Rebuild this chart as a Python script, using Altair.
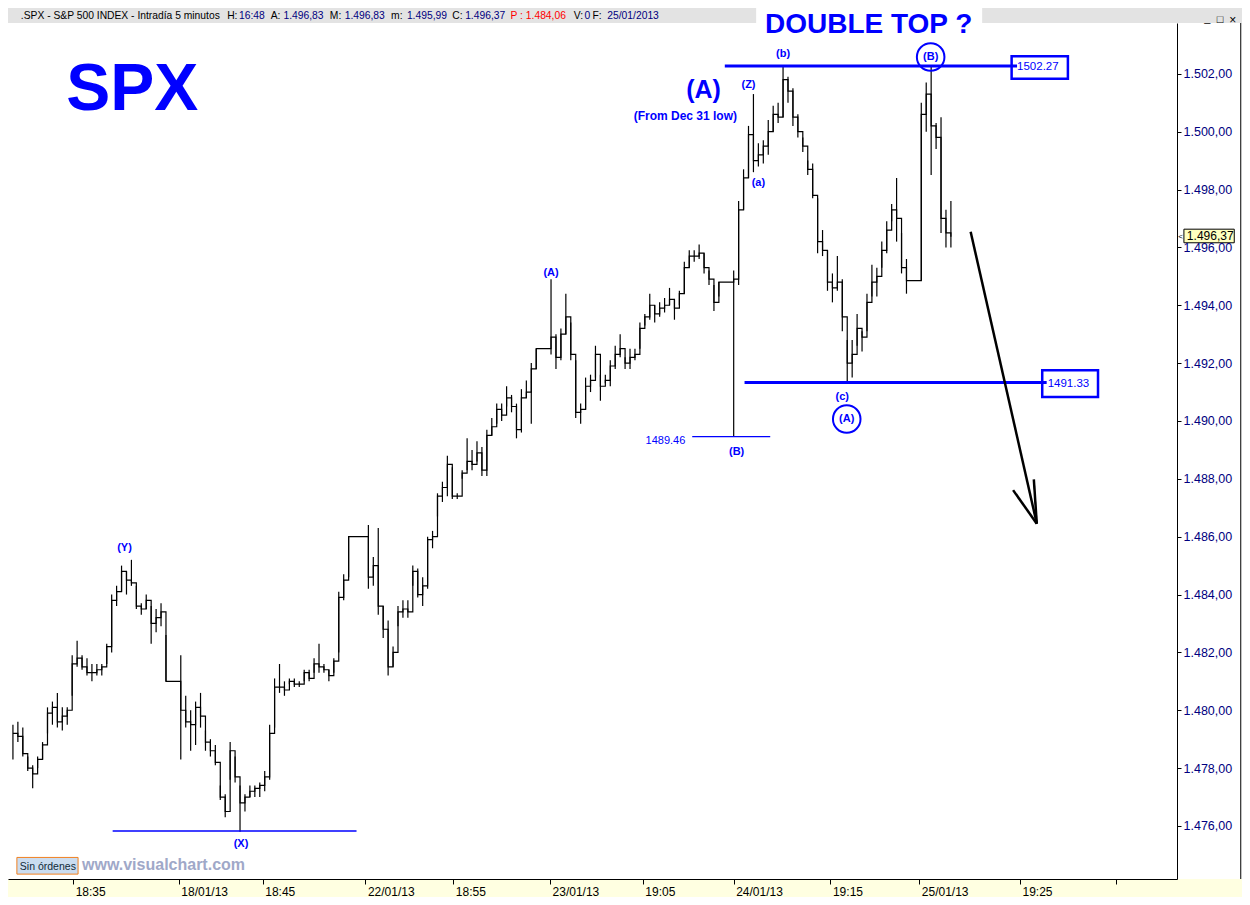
import altair as alt
import pandas as pd

# 5-minute bars of the S&P 500 (about one sample every two bars)
highs = [
    1479.5, 1479.6, 1479.4, 1478.4, 1478.1, 1478.4, 1478.9, 1480.1, 1480.3, 1480.6,
    1480.1, 1480.1, 1481.9, 1482.4, 1481.9, 1481.8, 1481.6, 1481.6, 1481.6, 1482.3,
    1484.0, 1484.3, 1485.0, 1484.8, 1485.2, 1484.3, 1483.7, 1484.0, 1483.6, 1483.5,
    1483.7, 1482.6, 1481.0, 1481.0, 1481.9, 1480.5, 1480.0, 1480.3, 1480.6, 1479.3,
    1479.0, 1478.8, 1477.4, 1477.1, 1478.9, 1478.4, 1477.4, 1477.1, 1477.4, 1477.4,
    1477.5, 1477.9, 1479.5, 1481.1, 1481.6, 1481.0, 1481.1, 1481.1, 1481.0, 1481.4,
    1481.4, 1481.8, 1482.3, 1481.6, 1481.4, 1481.8, 1484.1, 1484.7, 1486.0, 1486.0,
    1486.0, 1486.0, 1486.4, 1485.3, 1486.3, 1483.6, 1483.1, 1482.2, 1483.6, 1483.8,
    1483.8, 1485.0, 1484.9, 1484.6, 1486.0, 1486.2, 1487.5, 1487.9, 1488.8, 1488.4,
    1487.5, 1488.3, 1489.4, 1489.0, 1489.3, 1489.1, 1489.7, 1490.1, 1490.6, 1490.6,
    1491.2, 1490.9, 1490.6, 1491.1, 1491.4, 1492.0, 1492.5, 1492.5, 1492.5, 1494.9,
    1493.0, 1493.2, 1494.4, 1493.4, 1492.1, 1490.6, 1491.5, 1491.6, 1492.6, 1491.6,
    1491.6, 1492.1, 1492.6, 1493.0, 1492.2, 1492.5, 1492.5, 1493.4, 1493.7, 1494.4,
    1494.0, 1494.1, 1494.25, 1494.6, 1494.2, 1494.5, 1495.5, 1495.9, 1495.9, 1496.1,
    1495.8, 1495.2, 1494.7, 1494.8, 1494.8, 1494.8, 1495.2, 1497.6, 1498.7, 1500.2,
    1501.3, 1499.6, 1499.7, 1500.4, 1500.9, 1501.0, 1502.27, 1501.9, 1501.5, 1500.6,
    1499.8, 1499.0, 1498.9, 1497.7, 1496.6, 1495.9, 1495.1, 1495.7, 1494.9, 1492.8,
    1492.8, 1493.7, 1493.1, 1494.4, 1495.4, 1495.3, 1496.2, 1496.9, 1497.5, 1498.4,
    1496.5, 1495.6, 1494.85, 1494.85, 1501.0, 1501.7, 1502.27, 1500.3, 1500.5, 1497.3,
    1497.6,
]
lows = [
    1478.3, 1478.9, 1478.4, 1477.9, 1477.3, 1478.0, 1478.3, 1479.2, 1479.5, 1479.4,
    1479.3, 1479.5, 1480.5, 1481.5, 1481.4, 1481.2, 1481.0, 1481.2, 1481.2, 1481.6,
    1482.0, 1483.6, 1484.1, 1484.0, 1484.3, 1483.5, 1483.3, 1483.5, 1482.3, 1482.7,
    1482.9, 1481.0, 1481.0, 1481.0, 1478.3, 1479.4, 1478.6, 1478.8, 1479.4, 1478.6,
    1478.4, 1478.1, 1476.9, 1476.3, 1477.6, 1477.5, 1475.8, 1476.5, 1477.0, 1477.0,
    1477.0, 1477.2, 1477.6, 1479.4, 1480.6, 1480.5, 1480.9, 1480.8, 1480.8, 1481.0,
    1481.0, 1481.3, 1481.3, 1481.3, 1481.0, 1481.3, 1482.0, 1483.8, 1484.6, 1486.0,
    1486.0, 1486.0, 1484.2, 1484.3, 1483.3, 1482.5, 1481.2, 1481.5, 1482.9, 1483.2,
    1483.2, 1484.3, 1483.9, 1483.6, 1484.2, 1485.6, 1486.7, 1487.2, 1487.4, 1487.3,
    1487.3, 1488.0, 1488.3, 1488.3, 1488.6, 1488.1, 1488.1, 1489.5, 1489.9, 1490.0,
    1490.5, 1490.3, 1489.4, 1489.6, 1490.8, 1489.9, 1491.8, 1492.5, 1492.5, 1492.3,
    1491.8, 1492.1, 1493.0, 1492.1, 1490.1, 1489.9, 1490.4, 1491.0, 1491.5, 1490.7,
    1491.3, 1491.2, 1491.8, 1492.2, 1491.8, 1491.8, 1492.1, 1492.5, 1493.3, 1493.5,
    1493.4, 1493.6, 1493.75, 1494.0, 1493.5, 1494.0, 1494.4, 1495.3, 1495.5, 1495.6,
    1495.1, 1494.7, 1493.8, 1494.3, 1494.8, 1494.8, 1489.46, 1494.7, 1497.3, 1498.4,
    1498.6, 1498.8, 1498.9, 1499.2, 1500.0, 1500.3, 1500.5, 1501.0, 1500.2, 1499.8,
    1499.3, 1498.5, 1497.7, 1495.8, 1495.7, 1494.5, 1494.1, 1494.5, 1493.1, 1491.33,
    1491.5, 1492.6, 1492.4, 1493.1, 1494.3, 1494.3, 1495.3, 1495.8, 1496.9, 1496.2,
    1495.1, 1494.4, 1494.85, 1494.85, 1494.85, 1500.0, 1498.5, 1499.4, 1496.5, 1496.0,
    1496.0,
]
closes = [
    1479.2, 1479.1, 1478.5, 1478.0, 1477.8, 1478.3, 1478.8, 1479.9, 1480.1, 1479.6,
    1479.8, 1480.0, 1481.6, 1481.8, 1481.5, 1481.3, 1481.3, 1481.4, 1481.5, 1482.2,
    1483.8, 1484.1, 1484.8, 1484.5, 1484.4, 1483.6, 1483.5, 1483.8, 1483.0, 1483.2,
    1483.4, 1481.0, 1481.0, 1481.0, 1480.0, 1479.6, 1479.5, 1480.1, 1479.8, 1478.9,
    1478.6, 1478.2, 1477.0, 1476.5, 1478.6, 1477.7, 1476.8, 1477.0, 1477.2, 1477.3,
    1477.4, 1477.7, 1479.2, 1480.8, 1480.8, 1480.7, 1481.0, 1480.9, 1480.9, 1481.3,
    1481.1, 1481.6, 1481.5, 1481.4, 1481.2, 1481.7, 1483.9, 1484.5, 1486.0, 1486.0,
    1486.0, 1486.0, 1484.6, 1485.0, 1483.6, 1482.8, 1481.5, 1482.0, 1483.4, 1483.5,
    1483.4, 1484.8, 1484.0, 1484.3, 1485.9, 1486.0, 1487.4, 1487.7, 1488.5, 1487.4,
    1487.4, 1488.2, 1488.6, 1488.5, 1488.9, 1488.3, 1489.5, 1489.8, 1490.4, 1490.2,
    1490.8, 1490.5, 1489.7, 1490.8, 1491.0, 1491.8, 1492.5, 1492.5, 1492.5, 1492.9,
    1492.2, 1493.0, 1493.6, 1492.3, 1490.3, 1490.4, 1491.2, 1491.4, 1492.3, 1491.2,
    1491.4, 1491.9, 1492.3, 1492.5, 1492.0, 1492.2, 1492.3, 1493.2, 1493.6, 1494.0,
    1493.7, 1493.9, 1494.0, 1494.2, 1493.9, 1494.4, 1495.3, 1495.7, 1495.7, 1495.8,
    1495.3, 1494.9, 1494.1, 1494.8, 1494.8, 1494.8, 1494.9, 1497.3, 1498.4, 1499.9,
    1499.0, 1499.2, 1499.5, 1500.0, 1500.6, 1500.5, 1501.8, 1501.4, 1500.5, 1500.0,
    1499.5, 1498.7, 1497.8, 1496.2, 1495.9, 1494.8, 1494.6, 1494.8, 1493.6, 1492.0,
    1492.3, 1493.2, 1492.9, 1494.1, 1494.8, 1495.0, 1495.9, 1496.6, 1497.3, 1497.0,
    1495.3, 1494.85, 1494.85, 1494.85, 1500.6, 1501.3, 1500.2, 1499.8, 1497.0, 1496.5,
    1496.37,
]

# bottom axis: bar position -> label
tick_k = [12.2, 33.6, 50.6, 71.4, 89.2, 108.8, 127.6, 146.0, 165.6, 183.6, 204.0, 223.4]
tick_text = ["18:35", "18/01/13", "18:45", "22/01/13", "18:55", "23/01/13",
             "19:05", "24/01/13", "19:15", "25/01/13", "19:25", ""]
price_ticks = [1476, 1478, 1480, 1482, 1484, 1486, 1488, 1490, 1492, 1494, 1496, 1498, 1500, 1502]

# wave counts
wave_text = ["(Y)", "(X)", "(A)", "(B)", "(a)", "(Z)", "(b)", "(c)", "(A)", "(B)",
             "(A)", "(From Dec 31 low)"]
wave_k = [22.6, 46.2, 109.0, 146.6, 151.0, 149.0, 156.0, 168.0, 168.9, 185.9, 139.9, 136.2]
wave_p = [1485.61, 1475.39, 1495.11, 1488.93, 1498.23, 1501.63, 1502.68, 1490.82,
          1490.07, 1502.58, 1501.44, 1500.54]
wave_size = [11, 11, 11, 11, 11, 11, 11, 11, 11, 11, 25, 12]
circle_k = [185.9, 168.9]
circle_p = [1502.58, 1490.07]

# horizontal levels
level_k1 = [20.2, 137.6, 144.2, 148.2]
level_k2 = [69.6, 153.4, 203.4, 209.4]
level_p = [1475.83, 1489.46, 1502.27, 1491.33]
level_w = [1.5, 1.2, 3, 3]
low_label = ["1489.46"]
low_label_k = [136.2]
low_label_p = [1489.32]
box_label = ["1502.27", "1491.33"]
box_label_k = [203.4, 209.6]
box_label_p = [1502.24, 1491.28]
box_k1 = [202.3, 208.5]
box_k2 = [213.7, 219.8]
box_p1 = [1502.61, 1491.75]
box_p2 = [1501.83, 1490.83]

# the down arrow (shaft + two wings)
arrow_k1 = [194.0, 202.6, 206.8]
arrow_k2 = [207.4, 207.4, 207.4]
arrow_p1 = [1496.54, 1487.61, 1487.98]
arrow_p2 = [1486.45, 1486.45, 1486.45]

last_price = 1496.37

# header line of the window
head_text = [".SPX - S&P 500 INDEX - Intradía 5 minutos", "H:", "16:48", "A:", "1.496,83",
             "M:", "1.496,83", "m:", "1.495,99", "C:", "1.496,37", "P : 1.484,06",
             "V:", "0", "F:", "25/01/2013"]
head_x = [13, 222, 234, 266, 279, 326, 341, 388, 404, 450, 463, 509, 573, 584, 592, 607]
head_color = ["#000000", "#000000", "#000080", "#000000", "#000080", "#000000", "#000080",
              "#000000", "#000080", "#000000", "#000080", "#ff0000", "#000000", "#000080",
              "#000000", "#000080"]

W, H = 1169, 856
PAD = {"left": 0, "top": 15, "right": 65, "bottom": 18}
SX, SY = 0.987, 0.982
BLUE = "#0000ff"
FONT = "Liberation Sans"


def px(rx):
    return rx * SX


def py(ry):
    return ry * SY - PAD["top"]


def bar_pos(rx):
    # position in bar units of a point of the reference picture
    return (rx - 5) / 5


x_scale = alt.Scale(domain=[-1, 235.8], nice=False, zero=False)
y_scale = alt.Scale(domain=[1474.167, 1503.757], nice=False, zero=False)

x_axis = alt.Axis(
    values=tick_k, labelExpr=f"{tick_text}[indexof({tick_k}, datum.value)]",
    title=None, grid=False, domainColor="black", tickColor="black", tickSize=5,
    labelColor="black", labelFont=FONT, labelFontSize=12, labelAlign="left",
    labelOffset=2, labelPadding=2, labelFlush=False, labelOverlap=False, zindex=1)
y_axis = alt.Axis(
    orient="right", values=price_ticks,
    labelExpr="format(floor(datum.value / 1000), 'd') + '.' + format(datum.value % 1000, '03d') + ',00'",
    title=None, grid=False, domainColor="black", tickColor="black", tickSize=4,
    labelColor="#000080", labelFont=FONT, labelFontSize=12.5, labelPadding=2,
    labelFlush=False, labelOverlap=False, zindex=1)

one = pd.DataFrame({"a": [0]})


def rect(x1, x2, y1, y2, **style):
    return alt.Chart(one).mark_rect(**style).encode(
        x=alt.value(x1), x2=alt.value(x2), y=alt.value(y1), y2=alt.value(y2))


def label(text, x, y, **style):
    return alt.Chart(one).mark_text(text=text, **style).encode(x=alt.value(x), y=alt.value(y))


def Y(field):
    return alt.Y(field, scale=y_scale, axis=y_axis)


# every layer carries the same axis so that the shared axes merge cleanly
X = alt.X("k:Q", scale=x_scale, axis=x_axis)

bars = pd.DataFrame({"k": list(range(len(highs))), "high": highs, "low": lows, "close": closes})

bar_rules = alt.Chart(bars).mark_rule(color="black", strokeWidth=1.2).encode(
    x=X, y=Y("low:Q"), y2="high:Q")
steps = alt.Chart(bars).mark_line(color="black", strokeWidth=1.2, interpolate="step-after").encode(
    x=X, y=Y("close:Q"))

levels = alt.Chart(pd.DataFrame({"k": level_k1, "k2": level_k2, "p": level_p, "w": level_w})).mark_rule(
    color=BLUE).encode(x=X, x2="k2:Q", y=Y("p:Q"), strokeWidth=alt.StrokeWidth("w:Q", scale=None))
boxes = alt.Chart(pd.DataFrame({"k": box_k1, "k2": box_k2, "p": box_p1, "p2": box_p2})).mark_rect(
    fill="white", fillOpacity=0, stroke=BLUE, strokeWidth=2.5).encode(
    x=X, x2="k2:Q", y=Y("p:Q"), y2="p2:Q")
arrow = alt.Chart(pd.DataFrame({"k": arrow_k1, "k2": arrow_k2, "p": arrow_p1, "p2": arrow_p2})).mark_rule(
    color="black", strokeWidth=2.5).encode(x=X, x2="k2:Q", y=Y("p:Q"), y2="p2:Q")

waves = alt.Chart(pd.DataFrame({"k": wave_k, "p": wave_p, "t": wave_text, "s": wave_size})).mark_text(
    font=FONT, fontWeight="bold", color=BLUE, align="center", baseline="middle").encode(
    x=X, y=Y("p:Q"), text="t:N", size=alt.Size("s:Q", scale=None))
circles = alt.Chart(pd.DataFrame({"k": circle_k, "p": circle_p})).mark_point(
    shape="circle", filled=False, color=BLUE, strokeWidth=2, size=760, opacity=1).encode(
    x=X, y=Y("p:Q"))
low_text = alt.Chart(pd.DataFrame({"k": low_label_k, "p": low_label_p, "t": low_label})).mark_text(
    font=FONT, fontSize=11, color=BLUE, align="right", baseline="middle").encode(
    x=X, y=Y("p:Q"), text="t:N")
box_text = alt.Chart(pd.DataFrame({"k": box_label_k, "p": box_label_p, "t": box_label})).mark_text(
    font=FONT, fontSize=11.5, color=BLUE, align="left", baseline="middle").encode(
    x=X, y=Y("p:Q"), text="t:N")

price_box = alt.Chart(pd.DataFrame({"k": [237.2], "k2": [247.4], "p": [1496.16], "p2": [1496.63]})).mark_rect(
    fill="#ffffc0", stroke="black", strokeWidth=1).encode(x=X, x2="k2:Q", y=Y("p:Q"), y2="p2:Q")
price_text = alt.Chart(pd.DataFrame({"k": [237.8], "p": [1496.40], "t": ["1.496,37"]})).mark_text(
    font=FONT, fontSize=12, color="black", align="left", baseline="middle").encode(
    x=X, y=Y("p:Q"), text="t:N")
price_mark = alt.Chart(pd.DataFrame({"k": [236.5], "p": [last_price], "t": ["<"]})).mark_text(
    font=FONT, fontSize=8, color="black", align="center", baseline="middle").encode(
    x=X, y=Y("p:Q"), text="t:N")

header = alt.Chart(pd.DataFrame({"k": [bar_pos(v) for v in head_x], "t": head_text, "c": head_color})).mark_text(
    font=FONT, fontSize=10.3, align="left", baseline="alphabetic").encode(
    x=X, y=alt.value(py(11.5)), text="t:N", color=alt.Color("c:N", scale=None))

layers = [
    rect(0, W + PAD["right"], -PAD["top"], 0, fill="#e3e3e3"),
    rect(px(758), px(987), -PAD["top"], 0, fill="white"),
    rect(0, W + PAD["right"], H, H + PAD["bottom"], fill="#ffffe1"),
    alt.Chart(one).mark_rule(color="black", strokeWidth=1).encode(
        x=alt.value(px(1249)), y=alt.value(0), y2=alt.value(H)),
    bar_rules, steps, levels, boxes, arrow, waves, circles, low_text, box_text,
    price_box, price_text, price_mark, header,
    label("_", px(1215), py(11), font=FONT, fontSize=11, color="black", align="center"),
    label("□", px(1228), py(12), font=FONT, fontSize=11, color="black", align="center"),
    label("×", px(1241), py(12), font=FONT, fontSize=12, color="black", align="center"),
    label("DOUBLE TOP ?", px(872), py(25), font=FONT, fontSize=28, fontWeight="bold",
          color=BLUE, align="center", baseline="alphabetic"),
    label("SPX", px(126), py(104), font=FONT, fontSize=66, fontWeight="bold",
          color=BLUE, align="center", baseline="alphabetic"),
    rect(px(9), px(71), py(865), py(882), fill="#cadcf0", stroke="#f08020", strokeWidth=1),
    label("Sin órdenes", px(12), py(878), font=FONT, fontSize=10.5, color="#102a3a",
          align="left", baseline="alphabetic"),
    label("www.visualchart.com", px(75), py(878), font=FONT, fontSize=16, fontWeight="bold",
          color="#a0a8c8", align="left", baseline="alphabetic"),
]

chart = alt.layer(*layers).properties(
    width=W, height=H, padding=PAD, background="white",
    autosize=alt.AutoSizeParams(type="none"),
).configure_view(stroke=None)

chart.save("out.html", embed_options={"renderer": "svg", "actions": False})
